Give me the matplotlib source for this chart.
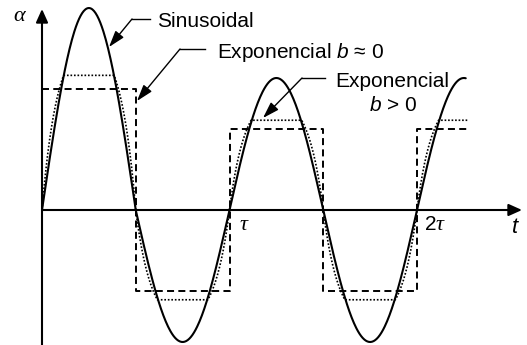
import numpy as np
import matplotlib
matplotlib.use('Agg')
from matplotlib import pyplot as plt

plt.rcParams['font.family'] = ['Liberation Sans', 'DejaVu Sans']
plt.rcParams['mathtext.fontset'] = 'custom'
plt.rcParams['mathtext.it'] = 'Liberation Sans:italic'
plt.rcParams['mathtext.rm'] = 'Liberation Sans'

# one value per half period (t in units of tau, amplitude in units of the later peaks)
half_starts = [0.0, 0.5, 1.0, 1.5, 2.0]
sine_amp = [1.53, 1.0, 1.0, 1.0, 1.0]
step_level = [0.92, 0.61, 0.61, 0.61, 0.61]      # Exponencial b ~ 0
smooth_level = [1.02, 0.68, 0.68, 0.68, 0.68]    # Exponencial b > 0
t_end = 2.26
step_end = 2.27
rise = 0.115      # rise time of the b > 0 curve
tconst = 0.08     # its exponential constant

# pixel frame of the original drawing
X0, Y0, SX, SY = 42, 210, 187.5, 132
W, H = 527, 345


def px(x, y):
    return (x - X0) / SX, (Y0 - y) / SY


fig = plt.figure(figsize=(W / 100, H / 100), dpi=100)
ax = fig.add_axes([0, 0, 1, 1])
ax.set_xlim(px(0, 0)[0], px(W, 0)[0])
ax.set_ylim(px(0, H)[1], px(0, 0)[1])
ax.axis('off')

# sinusoid
t_sin, a_sin = [], []
for k, t0 in enumerate(half_starts):
    t = np.linspace(t0, min(t0 + 0.5, t_end), 120)
    t_sin.append(t)
    a_sin.append(sine_amp[k] * np.sin(2 * np.pi * t))
ax.plot(np.concatenate(t_sin), np.concatenate(a_sin), color='k', lw=1.5,
        solid_capstyle='round', zorder=3)

# step (b ~ 0)
signs = [1 if k % 2 == 0 else -1 for k in range(len(half_starts))]
step_t = half_starts + [step_end]
step_a = [s * l for s, l in zip(signs, step_level)]
step_a = step_a + [step_a[-1]]
ax.plot(step_t, step_a, drawstyle='steps-post', color='k', lw=1.4,
        linestyle=(0, (3.6, 2.2)), zorder=2)


# smoothed step (b > 0)
def ramp(s):
    return (1 - np.exp(-s / tconst)) / (1 - np.exp(-rise / tconst))


t_dot, a_dot = [], []
for k, t0 in enumerate(half_starts):
    t = np.linspace(t0, min(t0 + 0.5, step_end), 200)
    s = t - t0
    shape = np.minimum(1, np.minimum(ramp(s), ramp(0.5 - s)))
    if k == len(half_starts) - 1:
        shape = np.minimum(1, ramp(s))
    t_dot.append(t)
    a_dot.append(signs[k] * smooth_level[k] * shape)
ax.plot(np.concatenate(t_dot), np.concatenate(a_dot), color='k', lw=1.2,
        linestyle=(0, (1, 1.1)), zorder=2)

# axes with arrows
axis_arrow = dict(arrowstyle='-|>,head_length=0.8,head_width=0.36', color='k',
                  lw=1.5, shrinkA=0, shrinkB=0, mutation_scale=10)
ax.annotate('', xy=px(522, 210), xytext=px(42, 210), arrowprops=axis_arrow)
ax.annotate('', xy=px(42, 9), xytext=px(42, 346), arrowprops=axis_arrow)

# leaders
lead_arrow = dict(arrowstyle='-|>,head_length=1.0,head_width=0.32', color='k',
                  lw=1.0, shrinkA=0, shrinkB=0, mutation_scale=10)
leaders = [((150, 19), (132, 19), (109, 47)),
           ((205, 49), (180, 49), (137, 101)),
           ((325, 78), (302, 78), (263, 118))]
for start, elbow, tip in leaders:
    ax.plot(*zip(px(*start), px(*elbow)), color='k', lw=1.0)
    ax.annotate('', xy=px(*tip), xytext=px(*elbow), arrowprops=lead_arrow)

fs = 15
ax.text(*px(157, 27), 'Sinusoidal', fontsize=fs, va='baseline', ha='left')
ax.text(*px(217, 58), 'Exponencial $b$ \u2248 0', fontsize=fs, va='baseline', ha='left')
ax.text(*px(392, 87), 'Exponencial', fontsize=fs, va='baseline', ha='center')
ax.text(*px(393, 111), '$b$ > 0', fontsize=fs, va='baseline', ha='center')

greek = dict(family='Liberation Serif', style='italic', fontsize=16, va='baseline')
ax.text(*px(13, 21), '\u03b1', ha='left', **greek)
ax.text(*px(240, 230), '\u03c4', ha='left', **greek)
ax.text(*px(425, 230), '2', fontsize=fs, va='baseline', ha='left')
ax.text(*px(436, 230), '\u03c4', ha='left', **greek)
ax.text(*px(512, 233), 't', fontsize=16, style='italic', va='baseline', ha='left')

fig.savefig('out.png', dpi=100)
